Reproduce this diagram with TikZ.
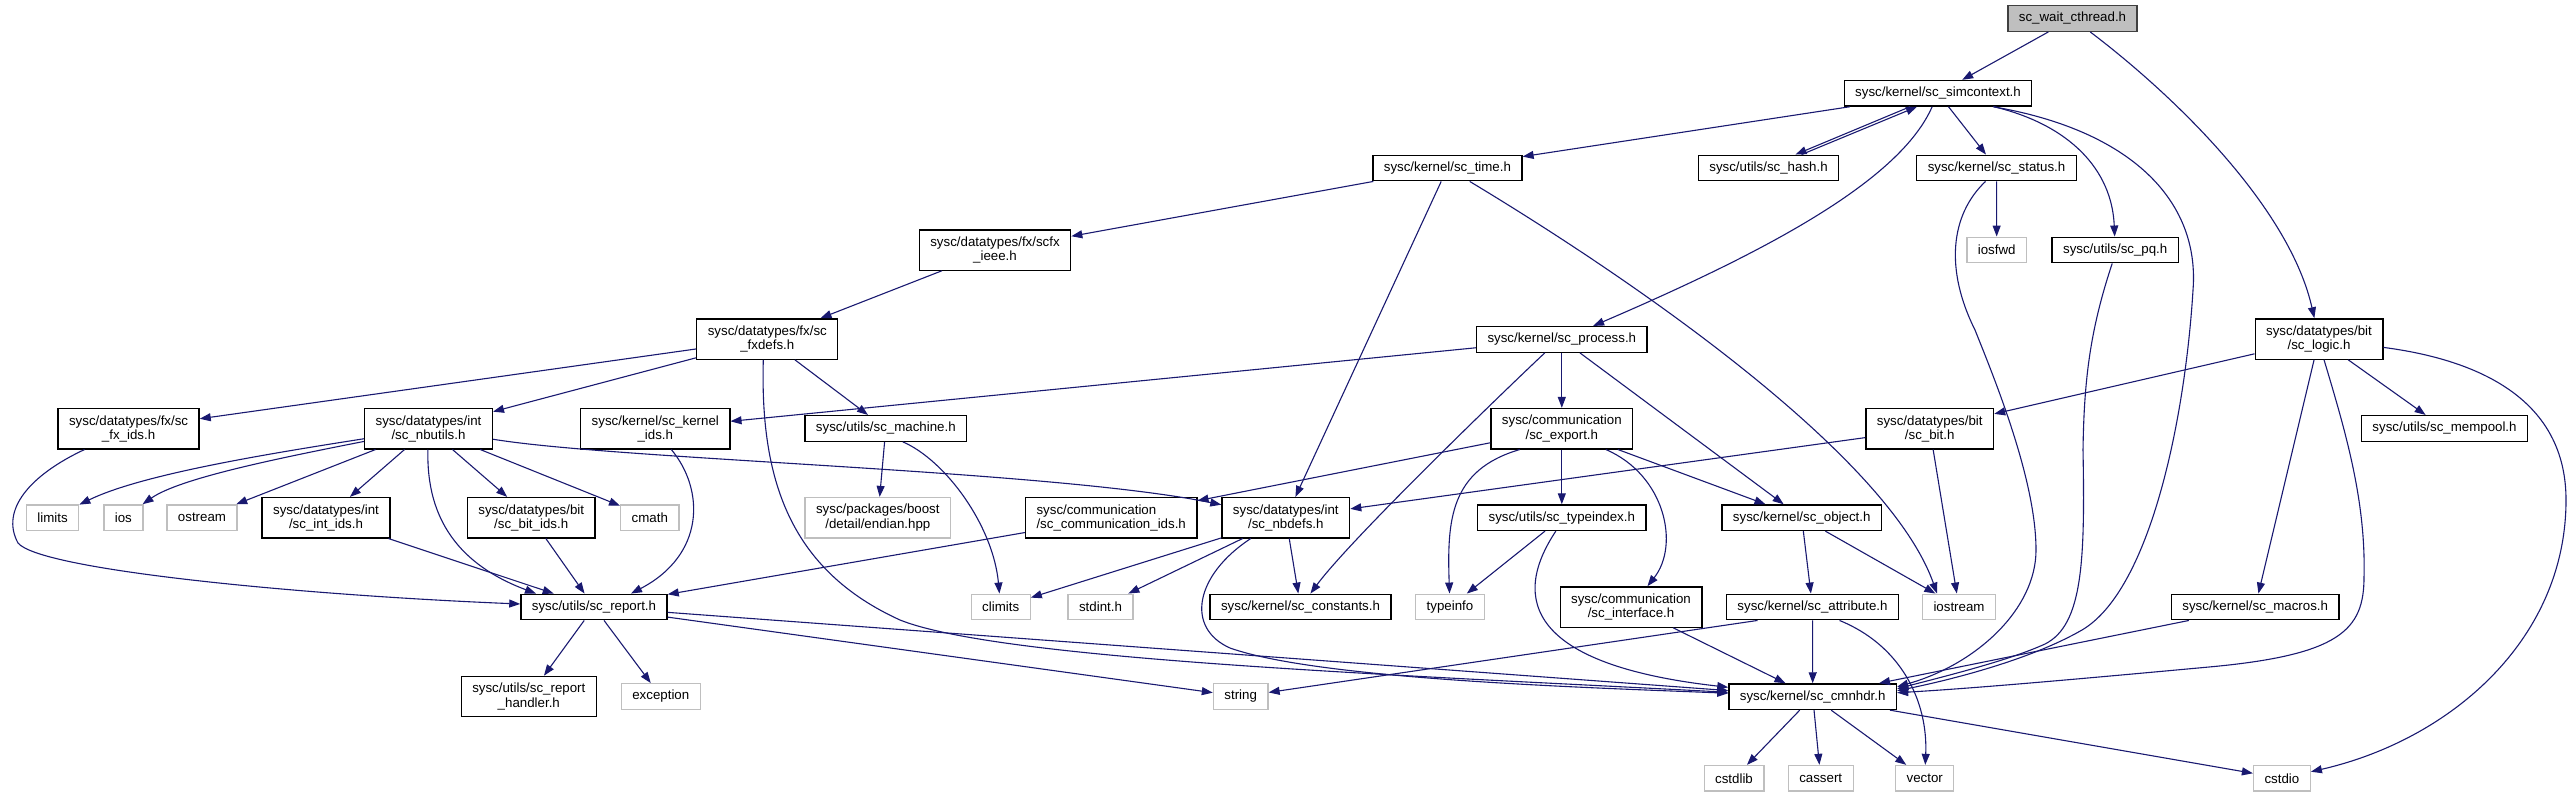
\documentclass[tikz,border=0pt]{standalone}
\usepackage{fontspec}
\setmainfont{Liberation Sans}
\usetikzlibrary{arrows.meta}
\definecolor{edgeblue}{RGB}{25,25,112}

\begin{document}
\begin{tikzpicture}[x=1pt,y=-1pt,font=\fontsize{13.3}{14.3}\selectfont,
  hdr/.style={draw=black,line width=1.3pt,fill=white,inner xsep=11pt,inner ysep=0pt,minimum height=25.6pt,align=center},
  hdrtwo/.style={hdr,minimum height=40.3pt},
  sys/.style={hdr,draw=black!25},
  root/.style={hdr,draw=black!75,fill=black!25},
  inc/.style={draw=edgeblue,line width=1.1pt,-{Triangle[length=11pt,width=8pt]}}]
  \useasboundingbox (0,0) rectangle (2574,797);
  % top
  \node[root] (wait) at (2072.5,18.5) {sc\_wait\_cthread.h};
  \node[hdr] (simc) at (1938,93.3) {sysc/kernel/sc\_simcontext.h};
  % kernel row
  \node[hdr] (time) at (1447.4,168) {sysc/kernel/sc\_time.h};
  \node[hdr] (hash) at (1768.5,168) {sysc/utils/sc\_hash.h};
  \node[hdr] (status) at (1996.5,168) {sysc/kernel/sc\_status.h};
  \node[hdrtwo] (scfx) at (995,250) {sysc/datatypes/fx/scfx\\\_ieee.h};
  \node[hdr] (pq) at (2115.2,250) {sysc/utils/sc\_pq.h};
  \node[hdrtwo] (fxdefs) at (767.3,339) {sysc/datatypes/fx/sc\\\_fxdefs.h};
  \node[hdr] (process) at (1561.8,339.4) {sysc/kernel/sc\_process.h};
  \node[hdrtwo] (logic) at (2319,339) {sysc/datatypes/bit\\/sc\_logic.h};
  % middle row
  \node[hdrtwo] (fxids) at (128.6,428.7) {sysc/datatypes/fx/sc\\\_fx\_ids.h};
  \node[hdrtwo] (nbutils) at (428.5,428.7) {sysc/datatypes/int\\/sc\_nbutils.h};
  \node[hdrtwo] (kernids) at (655.3,428.7) {sysc/kernel/sc\_kernel\\\_ids.h};
  \node[hdr] (machine) at (885.8,428.4) {sysc/utils/sc\_machine.h};
  \node[hdrtwo] (export) at (1561.8,428.7) {sysc/communication\\/sc\_export.h};
  \node[hdrtwo] (bit) at (1929.7,428.7) {sysc/datatypes/bit\\/sc\_bit.h};
  \node[hdr] (mempool) at (2444.5,428.4) {sysc/utils/sc\_mempool.h};
  \node[hdrtwo] (intids) at (326,517.7) {sysc/datatypes/int\\/sc\_int\_ids.h};
  \node[hdrtwo] (bitids) at (531.2,517.7) {sysc/datatypes/bit\\/sc\_bit\_ids.h};
  \node[sys,minimum height=40.3pt] (endian) at (877.8,517.7) {sysc/packages/boost\\/detail/endian.hpp};
  \node[hdrtwo,align=left] (commids) at (1111.2,517.7) {sysc/communication\\/sc\_communication\_ids.h};
  \node[hdrtwo] (nbdefs) at (1285.8,517.7) {sysc/datatypes/int\\/sc\_nbdefs.h};
  \node[hdr] (typeindex) at (1561.8,517.7) {sysc/utils/sc\_typeindex.h};
  \node[hdr] (object) at (1801.7,517.7) {sysc/kernel/sc\_object.h};
  % lower rows
  \node[hdr] (report) at (594,607) {sysc/utils/sc\_report.h};
  \node[hdr] (constants) at (1300.5,607) {sysc/kernel/sc\_constants.h};
  \node[hdrtwo] (interface) at (1631,607) {sysc/communication\\/sc\_interface.h};
  \node[hdr] (attribute) at (1812.5,607) {sysc/kernel/sc\_attribute.h};
  \node[hdr] (macros) at (2255.2,607) {sysc/kernel/sc\_macros.h};
  \node[hdrtwo] (handler) at (528.8,696.5) {sysc/utils/sc\_report\\\_handler.h};
  \node[hdr] (cmnhdr) at (1812.7,696.7) {sysc/kernel/sc\_cmnhdr.h};
  % system headers
  \foreach \n/\x/\y/\t in {iosfwd/1996.7/250/iosfwd, limits/52.6/517.7/limits, ios/123.4/517.7/ios,
      ostream/202/517.7/ostream, cmath/649.8/517.7/cmath, climits/1000.7/607/climits,
      stdint/1100.5/607/stdint.h, typeinfo/1450/607/typeinfo, iostream/1959/607/iostream,
      exception/660.8/696.5/exception, string/1240.7/696.5/string, cstdlib/1734/778.3/cstdlib,
      cassert/1820.7/778.3/cassert, vector/1924.7/778.3/vector, cstdio/2281.9/778.3/cstdio}
    \node[sys] (\n) at (\x,\y) {\t};
  % straight includes
  \foreach \a/\b in {wait/simc, simc/time, simc/status, time/scfx, time/nbdefs, scfx/fxdefs,
      fxdefs/fxids, fxdefs/nbutils, fxdefs/machine, process/kernids, process/export, process/object,
      status/iosfwd, logic/bit, logic/mempool, logic/macros, nbutils/ostream, nbutils/intids,
      nbutils/bitids, nbutils/cmath, machine/endian, bit/nbdefs, bit/iostream, intids/report,
      bitids/report, export/commids, export/typeindex, export/object, commids/report,
      nbdefs/climits, nbdefs/stdint, nbdefs/constants, typeindex/typeinfo, object/attribute,
      object/iostream, interface/cmnhdr, attribute/cmnhdr, report/handler, report/exception,
      report/string, report/cmnhdr, macros/cmnhdr, cmnhdr/cstdlib, cmnhdr/cassert,
      cmnhdr/vector, cmnhdr/cstdio}
    \draw[inc] (\a) -- (\b);
  \draw[inc] ([xshift=-55pt]attribute.south) -- (string);
  % simcontext <-> hash
  \draw[inc] ([xshift=-28pt]simc.south) -- ([xshift=27pt]hash.north);
  \draw[inc] ([xshift=33pt]hash.north) -- ([xshift=-21pt]simc.south);
  % curved includes
  \draw[inc] (wait) .. controls (2180,100) and (2290,210) .. (logic);
  \draw[inc] (simc) .. controls (1900,180) and (1770,250) .. (process);
  \draw[inc] (simc) .. controls (2070,125) and (2112,170) .. (pq);
  \draw[inc] ([xshift=55pt]simc.south) .. controls (2130,130) and (2200,200) .. (2193,290)
    .. controls (2185,420) and (2150,590) .. (2082,630)
    .. controls (2030,660) and (1950,680) .. ([yshift=6pt]cmnhdr.east);
  \draw[inc] (time) .. controls (1650,290) and (1890,460) .. ([xshift=-22pt]iostream.north);
  \draw[inc] ([xshift=-4pt]fxdefs.south) .. controls (760,480) and (790,570) .. (900,620)
    .. controls (1000,660) and (1400,675) .. (cmnhdr);
  \draw[inc] ([xshift=-17pt]process.south) .. controls (1500,395) and (1350,540) .. (constants);
  \draw[inc] ([xshift=-11pt]status.south) .. controls (1950,215) and (1945,270) .. (1975,330)
    .. controls (1995,380) and (2036,480) .. (2036,550)
    .. controls (2036,610) and (1975,665) .. ([yshift=10pt]cmnhdr.east);
  \draw[inc] ([xshift=-3pt]pq.south) .. controls (2090,330) and (2084,380) .. (2083,450)
    .. controls (2085,560) and (2083,625) .. (2045,644)
    .. controls (2010,660) and (1950,675) .. ([yshift=8pt]cmnhdr.east);
  \draw[inc] ([xshift=5pt]logic.south) .. controls (2345,430) and (2366,500) .. (2364,577)
    .. controls (2364,630) and (2340,655) .. (2209,667)
    .. controls (2100,677) and (1980,688) .. ([yshift=4pt]cmnhdr.east);
  \draw[inc] (logic) .. controls (2480,360) and (2566,400) .. (2566,500)
    .. controls (2566,640) and (2450,740) .. (cstdio);
  \draw[inc] ([xshift=-44pt]fxids.south) .. controls (30,475) and (0,510) .. (18,543)
    .. controls (40,570) and (300,595) .. (report);
  \draw[inc] (nbutils) .. controls (260,455) and (140,475) .. (limits);
  \draw[inc] (nbutils) .. controls (280,458) and (180,478) .. (ios);
  \draw[inc] (nbutils) .. controls (426,520) and (460,565) .. ([xshift=-58pt]report.north);
  \draw[inc] (nbutils) .. controls (620,460) and (1050,470) .. (nbdefs);
  \draw[inc] ([xshift=16pt]kernids.south) .. controls (705,490) and (705,555) .. ([xshift=37pt]report.north);
  \draw[inc] ([xshift=17pt]machine.south) .. controls (945,460) and (993,525) .. (climits);
  \draw[inc] ([xshift=-42pt]export.south) .. controls (1450,470) and (1447,520) .. (typeinfo);
  \draw[inc] ([xshift=44pt]export.south) .. controls (1665,475) and (1680,545) .. (interface);
  \draw[inc] ([xshift=-35pt]nbdefs.south) .. controls (1195,575) and (1185,628) .. (1230,648)
    .. controls (1320,680) and (1600,688) .. (cmnhdr);
  \draw[inc] ([xshift=-6pt]typeindex.south) .. controls (1510,600) and (1530,665) .. (cmnhdr);
  \draw[inc] ([xshift=27pt]attribute.south) .. controls (1900,645) and (1928,700) .. (vector);
\end{tikzpicture}
\end{document}
